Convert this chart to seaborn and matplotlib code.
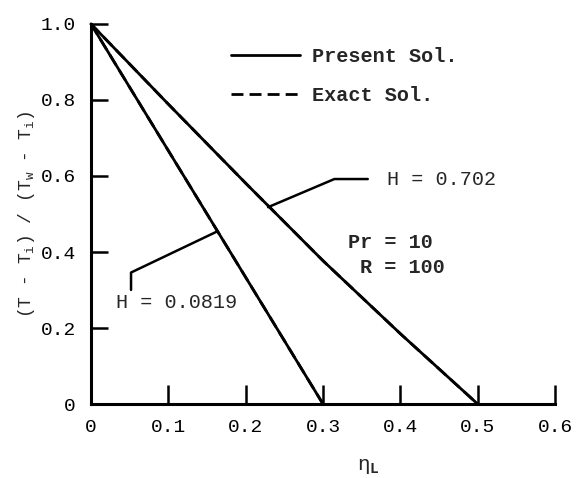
import matplotlib
matplotlib.use("Agg")
import matplotlib.pyplot as plt
from matplotlib.lines import Line2D
import seaborn as sns
import pandas as pd

# ---- data ----
eta_h0819 = [0.0, 0.3]
theta_h0819 = [1.0, 0.0]
eta_h0702 = [0.0, 0.1, 0.2, 0.3, 0.4, 0.5]
theta_h0702 = [1.0, 0.789, 0.581, 0.377, 0.185, 0.0]
x_ticks = [0, 0.1, 0.2, 0.3, 0.4, 0.5, 0.6]
x_ticklabels = ["0", "0.1", "0.2", "0.3", "0.4", "0.5", "0.6"]
y_ticks = [0, 0.2, 0.4, 0.6, 0.8, 1.0]
y_ticklabels = ["0", "0.2", "0.4", "0.6", "0.8", "1.0"]
legend_labels = ["Present Sol.", "Exact Sol."]

sns.set_theme(style="ticks")
plt.rcParams["font.family"] = ["Liberation Mono", "DejaVu Sans"]
plt.rcParams["mathtext.fontset"] = "custom"
plt.rcParams["mathtext.rm"] = "Liberation Mono"
plt.rcParams["mathtext.it"] = "Liberation Mono"
plt.rcParams["mathtext.bf"] = "Liberation Mono:bold"

df1 = pd.DataFrame({"eta": eta_h0819, "theta": theta_h0819})
df2 = pd.DataFrame({"eta": eta_h0702, "theta": theta_h0702})

fig = plt.figure(figsize=(5.76, 4.78), dpi=100)
ax = fig.add_axes([0.158, 0.1548, 0.8056, 0.795])

lw = 2.0
for d in (df1, df2):
    sns.lineplot(data=d, x="eta", y="theta", ax=ax, color="black", lw=lw,
                 linestyle=(0, (4.3, 2.2)), legend=False, clip_on=False)
    sns.lineplot(data=d, x="eta", y="theta", ax=ax, color="black", lw=lw,
                 legend=False, clip_on=False)

ax.set_xlim(0, 0.6)
ax.set_ylim(0, 1.0)
ax.set_xticks(x_ticks)
ax.set_xticklabels(x_ticklabels)
ax.set_yticks(y_ticks)
ax.set_yticklabels(y_ticklabels)

for s in ("top", "right"):
    ax.spines[s].set_visible(False)
for s in ("left", "bottom"):
    ax.spines[s].set_linewidth(2.2)
    ax.spines[s].set_color("black")

ax.tick_params(axis="x", direction="in", length=14, width=1.8, pad=11,
               labelsize=14, colors="black")
ax.tick_params(axis="y", direction="in", length=12, width=1.8, pad=11,
               labelsize=14, colors="black")

ax.set_xlabel(r"$\eta_{\mathbf{L}}$", fontsize=15, va="center")
ax.xaxis.set_label_coords(0.597, -0.165)
ax.set_ylabel(r"(T - T$_i$) / (T$_w$ - T$_i$)", fontsize=13, va="center")
ax.yaxis.set_label_coords(-0.138, 0.5)

# legend
handles = [Line2D([], [], color="black", lw=lw),
           Line2D([], [], color="black", lw=lw, linestyle=(0, (4.3, 2.2)))]
ax.legend(handles, legend_labels, loc="upper left", bbox_to_anchor=(0.302, 0.94),
          frameon=False, borderpad=0, borderaxespad=0, handlelength=3.4,
          handletextpad=0.6, labelspacing=1.0,
          prop={"family": "Liberation Mono", "weight": "bold", "size": 14.5})

# annotations
ax.annotate("H = 0.702", xy=(0.229, 0.518), xytext=(0.383, 0.592),
            ha="left", va="center", fontsize=14.5,
            arrowprops=dict(arrowstyle="-", connectionstyle="angle,angleA=0,angleB=23,rad=0",
                            relpos=(0, 0.5), patchA=None, shrinkA=14, shrinkB=0,
                            lw=1.8, color="black"))
ax.annotate("H = 0.0819", xy=(0.162, 0.453), xytext=(0.032, 0.268),
            ha="left", va="center", fontsize=14.5,
            arrowprops=dict(arrowstyle="-", connectionstyle="angle,angleA=90,angleB=25.5,rad=0",
                            relpos=(0.126, 1.0), patchA=None, shrinkA=2, shrinkB=0,
                            lw=1.8, color="black"))

ax.text(0.3325, 0.426, "Pr = 10", ha="left", va="center", fontsize=14.5, fontweight="bold")
ax.text(0.348, 0.358, "R = 100", ha="left", va="center", fontsize=14.5, fontweight="bold")

fig.savefig("out.png", dpi=100)
